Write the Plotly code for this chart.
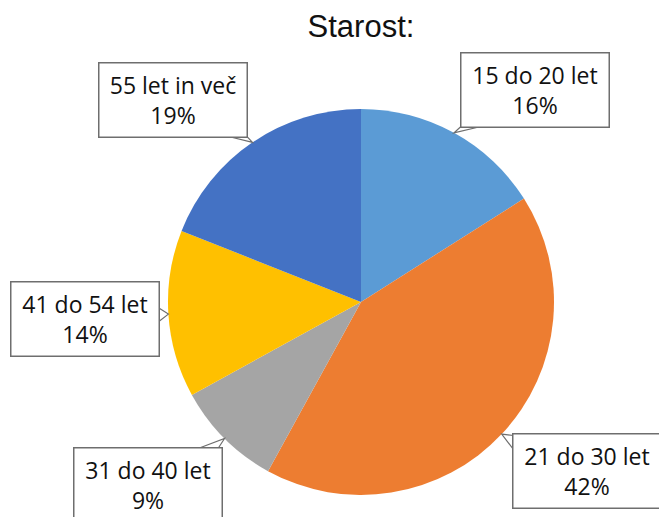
import math
import plotly.graph_objects as go

# Age groups and their shares (%)
categories = ["15 do 20 let", "21 do 30 let", "31 do 40 let", "41 do 54 let", "55 let in več"]
shares = [16, 42, 9, 14, 19]
colors = ["#5B9BD5", "#ED7D31", "#A5A5A5", "#FFC000", "#4472C4"]

W, H = 659, 517
CX, CY, R = 361, 302, 193  # pie centre and radius in pixels

# Callout box centres (pixels) for each category
box_centres = [(534.5, 90), (587, 471), (148, 485), (85, 319), (173, 99.5)]
BOX_W, BOX_H = 147, 73


def px(x):
    return x / W


def py(y):
    return 1 - y / H


fig = go.Figure(
    go.Pie(
        labels=categories,
        values=shares,
        marker=dict(colors=colors, line=dict(width=0)),
        sort=False,
        direction="clockwise",
        rotation=0,
        textinfo="none",
        hoverinfo="label+percent",
        domain=dict(x=[px(CX - R), px(CX + R)], y=[py(CY + R), py(CY - R)]),
        showlegend=False,
    )
)

shapes = []
annotations = []
total = sum(shares)
cum = 0
for cat, val, (bx, by) in zip(categories, shares, box_centres):
    mid = (cum + val / 2) / total * 2 * math.pi
    cum += val
    # rim point at the slice's mid-angle (clockwise from top)
    tx = CX + R * math.sin(mid)
    ty = CY - R * math.cos(mid)
    # tail base on the box edge nearest to the rim point
    dx, dy = tx - bx, ty - by
    if abs(dx) / BOX_W > abs(dy) / BOX_H:
        ex = bx + math.copysign(BOX_W / 2, dx)
        ey = by + dy * (BOX_W / 2) / abs(dx)
        ey = max(by - BOX_H / 2 + 8, min(by + BOX_H / 2 - 8, ey))
        b1, b2 = (ex, ey - 7), (ex, ey + 7)
    else:
        ey = by + math.copysign(BOX_H / 2, dy)
        ex = bx + dx * (BOX_H / 2) / abs(dy)
        ex = max(bx - BOX_W / 2 + 10, min(bx + BOX_W / 2 - 10, ex))
        b1, b2 = (ex - 10, ey), (ex + 10, ey)
    path = "M {} {} L {} {} L {} {} Z".format(
        px(b1[0]), py(b1[1]), px(tx), py(ty), px(b2[0]), py(b2[1])
    )
    shapes.append(
        dict(type="path", xref="paper", yref="paper", path=path,
             fillcolor="white", line=dict(color="#6E6E6E", width=1.2), layer="above")
    )
    annotations.append(
        dict(
            x=px(bx), y=py(by), xref="paper", yref="paper",
            xanchor="center", yanchor="middle",
            text=f"{cat}<br>{round(val / total * 100)}%",
            showarrow=False,
            width=BOX_W, height=BOX_H,
            bgcolor="white", bordercolor="#6E6E6E", borderwidth=1.5, borderpad=0,
            font=dict(family="Open Sans", size=23, color="#111111"),
        )
    )

fig.update_layout(
    width=W, height=H,
    margin=dict(l=0, r=0, t=0, b=0),
    paper_bgcolor="white",
    plot_bgcolor="white",
    title=dict(
        text="Starost:",
        x=px(CX), xanchor="center",
        y=py(26), yanchor="middle",
        font=dict(family="Liberation Sans, Arial", size=31, color="#111111"),
    ),
    shapes=shapes,
    annotations=annotations,
)

fig.write_html("out.html")
